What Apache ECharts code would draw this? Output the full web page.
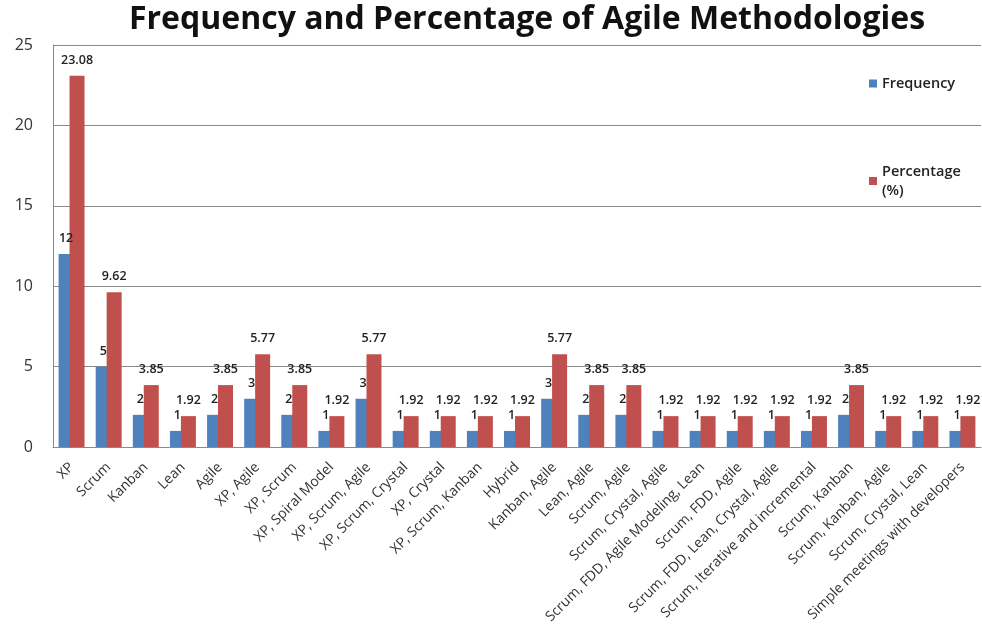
<!DOCTYPE html>
<html>
<head>
<meta charset="utf-8">
<script src="https://cdn.jsdelivr.net/npm/echarts@6/dist/echarts.min.js"></script>
<style>html,body{margin:0;padding:0;background:#fff}#c{width:982px;height:631px}</style>
</head>
<body>
<div id="c"></div>
<script>
const categories = ["XP","Scrum","Kanban","Lean","Agile","XP, Agile","XP, Scrum","XP, Spiral Model","XP, Scrum, Agile","XP, Scrum, Crystal","XP, Crystal","XP, Scrum, Kanban","Hybrid","Kanban, Agile","Lean, Agile","Scrum, Agile","Scrum, Crystal, Agile","Scrum, FDD, Agile Modeling, Lean","Scrum, FDD, Agile","Scrum, FDD, Lean, Crystal, Agile","Scrum, Iterative and incremental","Scrum, Kanban","Scrum, Kanban, Agile","Scrum, Crystal, Lean","Simple meetings with developers"];
const frequency = [12,5,2,1,2,3,2,1,3,1,1,1,1,3,2,2,1,1,1,1,1,2,1,1,1];
const percentage = [23.08,9.62,3.85,1.92,3.85,5.77,3.85,1.92,5.77,1.92,1.92,1.92,1.92,5.77,3.85,3.85,1.92,1.92,1.92,1.92,1.92,3.85,1.92,1.92,1.92];
const yTicks = {min:0, max:25, interval:5};

const FONT = "Open Sans";
const chart = echarts.init(document.getElementById('c'), null, {renderer:'canvas'});
chart.setOption({
  animation:false,
  backgroundColor:'#fff',
  title:{
    text:'Frequency and Percentage of Agile Methodologies',
    left:124, top:-1,
    textStyle:{fontFamily:FONT, fontWeight:'bold', fontSize:32, color:'#111'}
  },
  legend:{
    orient:'vertical', left:864, top:69, itemGap:69,
    itemWidth:8, itemHeight:8, icon:'rect', itemStyle:{borderWidth:0},
    textStyle:{fontFamily:FONT, fontSize:14.5, fontWeight:600, color:'#222', lineHeight:19},
    data:['Frequency','Percentage\n(%)']
  },
  grid:{left:53, right:1, top:45, bottom:184, containLabel:false},
  xAxis:{
    type:'category', data:categories,
    axisLine:{lineStyle:{color:'#8a8a8a', width:1}},
    axisTick:{show:false},
    axisLabel:{rotate:45, interval:0, margin:18, fontFamily:FONT, fontSize:14, color:'#333'}
  },
  yAxis:{
    type:'value', min:yTicks.min, max:yTicks.max, interval:yTicks.interval,
    axisLine:{show:true, lineStyle:{color:'#8a8a8a'}},
    axisTick:{show:false},
    splitLine:{lineStyle:{color:'#8a8a8a', width:1}},
    axisLabel:{fontFamily:FONT, fontSize:16, color:'#333', margin:20}
  },
  series:[
    {name:'Frequency', type:'bar', data:frequency, barWidth:15, barGap:'-27%',
     itemStyle:{color:'#4F81BD'},
     label:{show:true, position:'top', distance:9, fontFamily:FONT, fontSize:12.5, fontWeight:600, color:'#222'}},
    {name:'Percentage\n(%)', type:'bar', data:percentage, barWidth:15,
     itemStyle:{color:'#C0504D'},
     label:{show:true, position:'top', distance:9, fontFamily:FONT, fontSize:12.5, fontWeight:600, color:'#222'}}
  ]
});
</script>
</body>
</html>
